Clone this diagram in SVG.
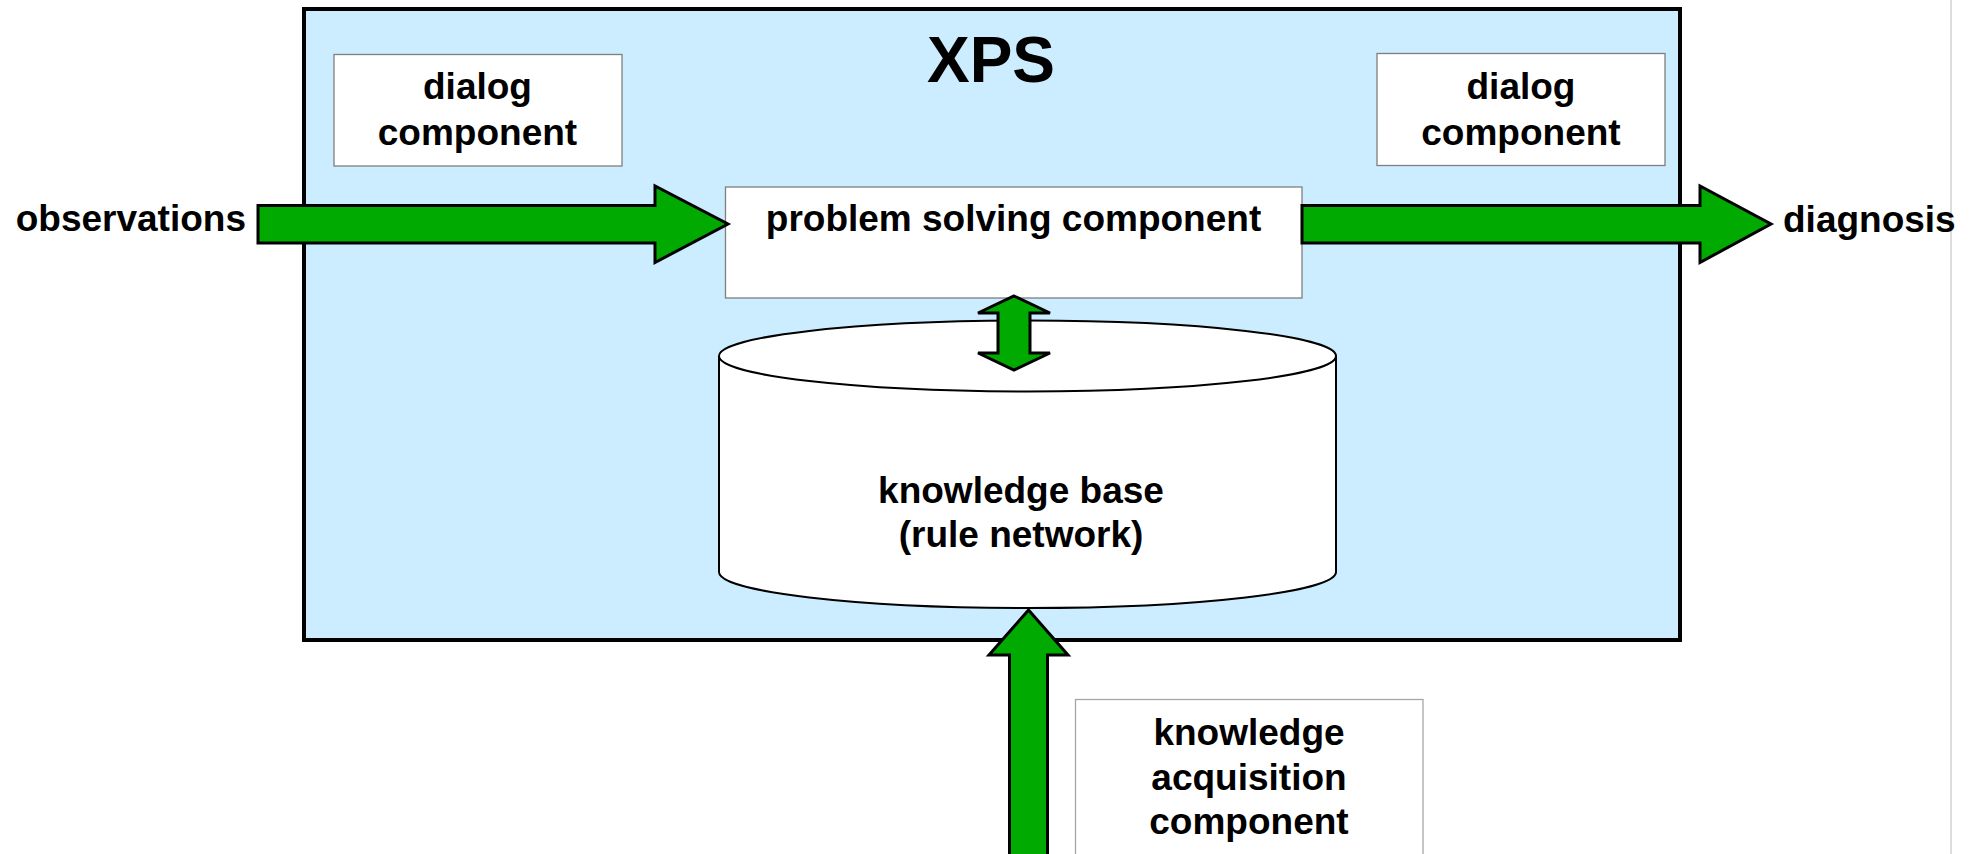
<svg xmlns="http://www.w3.org/2000/svg" width="1980" height="854" viewBox="0 0 1980 854">
<style>
  text { font-family: "Liberation Sans", Arial, sans-serif; font-weight: bold; fill: #000; }
  .lbl { font-size: 37px; }
  .mid { text-anchor: middle; }
  .box { fill: #fff; stroke: #7f7f7f; stroke-width: 1.3; }
  .box2 { fill: #fff; stroke: #a6a6a6; stroke-width: 1.3; }
  .arrow { fill: #00aa00; stroke: #000; stroke-width: 3; stroke-linejoin: miter; }
</style>
<rect x="0" y="0" width="1980" height="854" fill="#fff"/>
<line x1="1951" y1="0" x2="1951" y2="854" stroke="#dcdcdc" stroke-width="2"/>

<g id="xps">
  <rect x="304" y="9" width="1376" height="631" fill="#ccecff" stroke="#000" stroke-width="4"/>
  <text x="991" y="82" class="mid" font-size="64">XPS</text>
</g>

<g id="dialog-left">
  <rect class="box" x="334" y="54.5" width="288" height="111.5"/>
  <text class="lbl mid" x="477.5" y="99">dialog</text>
  <text class="lbl mid" x="477.5" y="145">component</text>
</g>

<g id="dialog-right">
  <rect class="box" x="1377" y="53.5" width="288" height="112"/>
  <text class="lbl mid" x="1521" y="99">dialog</text>
  <text class="lbl mid" x="1521" y="145">component</text>
</g>

<g id="problem-solving">
  <rect class="box" x="725.5" y="187" width="576.5" height="111"/>
  <text class="lbl mid" x="1013.5" y="231">problem solving component</text>
</g>

<g id="knowledge-base">
  <path d="M719,356 L719,572 A308.5,36 0 0 0 1336,572 L1336,356" fill="#fff" stroke="#000" stroke-width="2"/>
  <ellipse cx="1027.5" cy="356" rx="308.5" ry="35.5" fill="#fff" stroke="#000" stroke-width="2"/>
  <text class="lbl mid" x="1021" y="503">knowledge base</text>
  <text class="lbl mid" x="1021" y="547">(rule network)</text>
</g>

<g id="knowledge-acquisition">
  <rect class="box2" x="1075.5" y="699.5" width="347.5" height="170"/>
  <text class="lbl mid" x="1249" y="745">knowledge</text>
  <text class="lbl mid" x="1249" y="790">acquisition</text>
  <text class="lbl mid" x="1249" y="834">component</text>
</g>

<g id="observations">
  <text class="lbl" x="246" y="231" text-anchor="end">observations</text>
</g>

<g id="diagnosis">
  <text class="lbl" x="1783" y="232">diagnosis</text>
</g>

<g id="connectors">
  <path class="arrow" d="M258,205.5 L655,205.5 L655,186 L728,224 L655,262.5 L655,243 L258,243 Z"/>
  <path class="arrow" d="M1302,205.5 L1700,205.5 L1700,186 L1771,224 L1700,262.5 L1700,243 L1302,243 Z"/>
  <path class="arrow" d="M1014,296 L1050,313 L1030,313 L1030,353 L1050,353 L1014,370 L978,353 L998,353 L998,313 L978,313 Z"/>
  <path class="arrow" d="M1028.5,610 L1068,655 L1047.5,655 L1047.5,860 L1009.5,860 L1009.5,655 L989,655 Z"/>
</g>
</svg>
